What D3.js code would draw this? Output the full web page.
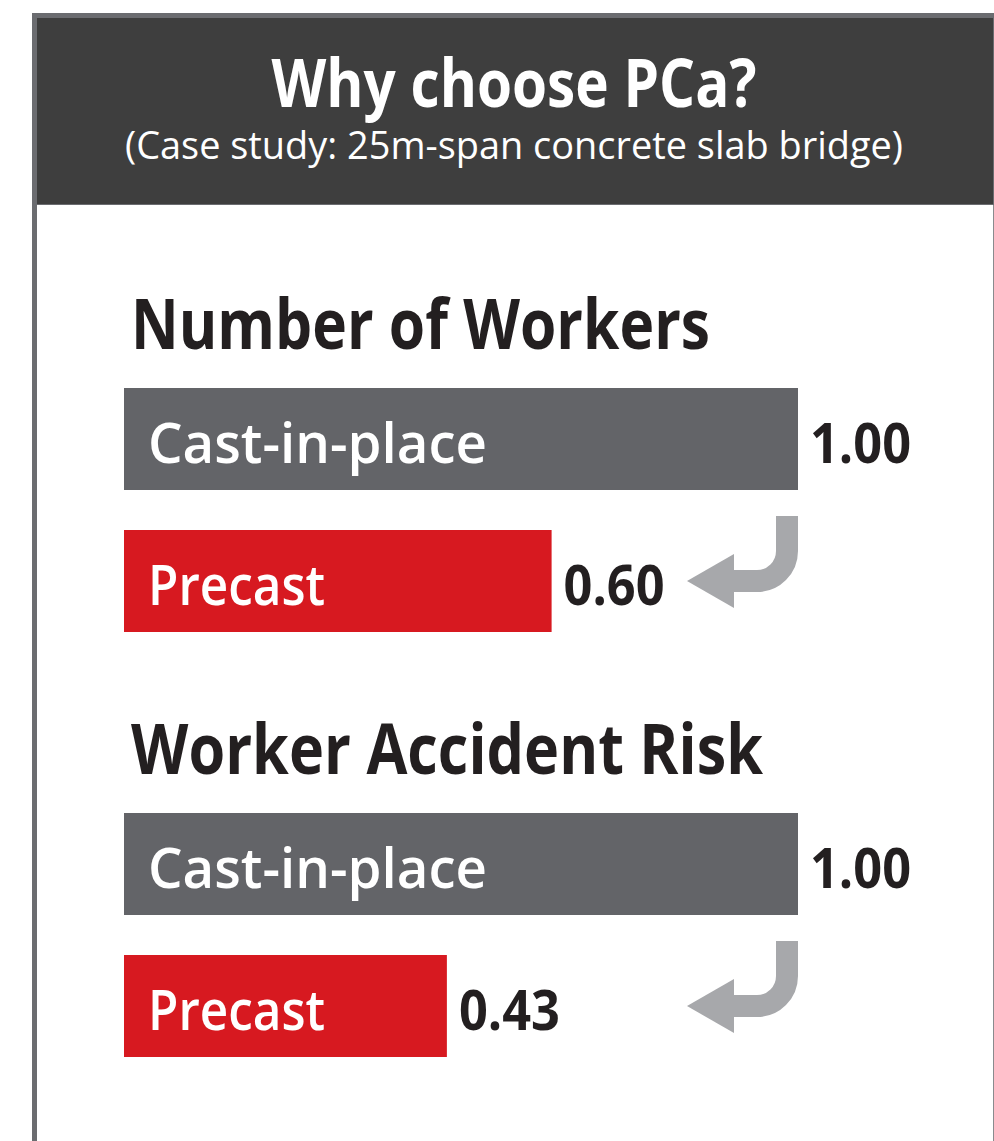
<!DOCTYPE html>
<html>
<head>
<meta charset="utf-8">
<script src="https://d3js.org/d3.v7.min.js" charset="utf-8"></script>
</head>
<body>
<div id="chart"></div>

<style>
    body {margin:0;background:#fff;}
    #chart svg {display:block;}
    text {font-family:"Open Sans","Noto Sans",sans-serif;}
</style>

<script>

// data
const sections = ["Number of Workers", "Worker Accident Risk"];
const methods = ["Cast-in-place", "Precast"];
const workers = [1.00, 0.60];
const accidentRisk = [1.00, 0.43];
const sectionValues = [workers, accidentRisk];

const title = "Why choose PCa?";
const subtitle = "(Case study: 25m-span concrete slab bridge)";

const width = 994, height = 1141;

const colors = {
    frame: "#6b6c70",
    header: "#3e3e3e",
    cast: "#636468",
    precast: "#d71920",
    arrow: "#a7a8ab",
    ink: "#231f20"
};

// widths the text takes in the original (its font is narrower than ours)
const headingWidth = {"Number of Workers": 579, "Worker Accident Risk": 632};
const labelWidth = {"Cast-in-place": 339, "Precast": 177};

const svg = d3.select("#chart").append("svg")
    .attr("width", width)
    .attr("height", height);

// frame + header
svg.append("line")
    .attr("x1", 993.5).attr("x2", 993.5)
    .attr("y1", 13).attr("y2", height)
    .attr("stroke", "#8a8b8e").attr("stroke-width", 1);
svg.append("rect")
    .attr("x", 32).attr("y", 13)
    .attr("width", 962).attr("height", 192)
    .attr("fill", colors.frame);
svg.append("rect")
    .attr("x", 37).attr("y", 18)
    .attr("width", 956).attr("height", 186)
    .attr("fill", colors.header);
svg.append("rect")
    .attr("x", 32).attr("y", 204)
    .attr("width", 5).attr("height", height - 204)
    .attr("fill", colors.frame);

svg.append("text")
    .attr("x", 514).attr("y", 107)
    .attr("text-anchor", "middle")
    .attr("fill", "#fff")
    .style("font-size", "66px")
    .style("font-weight", 700)
    .attr("textLength", 485)
    .attr("lengthAdjust", "spacingAndGlyphs")
    .text(title);

svg.append("text")
    .attr("x", 514).attr("y", 159)
    .attr("text-anchor", "middle")
    .attr("fill", "#fff")
    .style("font-size", "38px")
    .style("font-weight", 400)
    .attr("textLength", 778)
    .attr("lengthAdjust", "spacingAndGlyphs")
    .text(subtitle);

// scales
const x = d3.scaleLinear()
    .domain([0, 1])
    .range([182, 798]);
const barLeft = 124;

const sectionY = d3.scalePoint()
    .domain(sections)
    .range([0, 425]);

const y = d3.scaleBand()
    .domain(methods)
    .range([388, 632])
    .paddingInner(0.2817)
    .paddingOuter(0);

const g = svg.selectAll("g.section")
    .data(sections)
    .join("g")
    .attr("class", "section")
    .attr("transform", d => `translate(0,${sectionY(d)})`);

g.append("text")
    .attr("x", 131)
    .attr("y", y(methods[0]) - 39)
    .attr("fill", colors.ink)
    .style("font-size", "70px")
    .style("font-weight", 700)
    .attr("textLength", d => headingWidth[d])
    .attr("lengthAdjust", "spacingAndGlyphs")
    .text(d => d);

const rows = g.selectAll("g.row")
    .data((d, i) => methods.map((m, j) => ({method: m, value: sectionValues[i][j]})))
    .join("g")
    .attr("class", "row");

rows.append("rect")
    .attr("x", barLeft)
    .attr("y", d => y(d.method))
    .attr("width", d => x(d.value) - barLeft)
    .attr("height", y.bandwidth())
    .attr("fill", d => d.method === "Precast" ? colors.precast : colors.cast);

rows.append("text")
    .attr("x", 148)
    .attr("y", d => y(d.method) + 75)
    .attr("fill", "#fff")
    .style("font-size", "56px")
    .style("font-weight", 600)
    .attr("textLength", d => labelWidth[d.method])
    .attr("lengthAdjust", "spacingAndGlyphs")
    .text(d => d.method);

rows.append("text")
    .attr("x", d => x(d.value) + 12)
    .attr("y", d => y(d.method) + 75)
    .attr("fill", colors.ink)
    .style("font-size", "56px")
    .style("font-weight", 700)
    .attr("textLength", 101)
    .attr("lengthAdjust", "spacingAndGlyphs")
    .text(d => d.value.toFixed(2));

// bent arrow from cast-in-place bar down to the precast value
const r = 30;
g.each(function () {
    const sel = d3.select(this);
    const sx = x(1) - 11;
    const top = y(methods[0]) + y.bandwidth() + 26;
    const cy = y(methods[1]) + y.bandwidth() / 2;
    const tip = x(1) - 111;
    const back = tip + 47;

    const p = d3.path();
    p.moveTo(sx, top);
    p.lineTo(sx, cy - r);
    p.arcTo(sx, cy, sx - r, cy, r);
    p.lineTo(back - 1, cy);
    sel.append("path")
        .attr("d", p.toString())
        .attr("fill", "none")
        .attr("stroke", colors.arrow)
        .attr("stroke-width", 22);

    sel.append("path")
        .attr("d", `M${tip},${cy}L${back},${cy - 27}L${back},${cy + 27}Z`)
        .attr("fill", colors.arrow);
});

</script>
</body>
</html>
